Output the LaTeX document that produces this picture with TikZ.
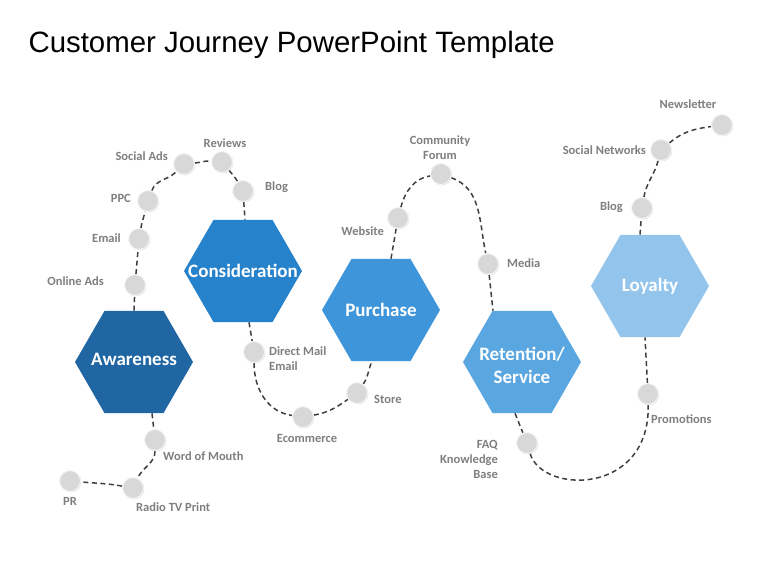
\documentclass[tikz,border=0pt]{standalone}
\usepackage{fontspec}
\setmainfont{Carlito}
\newfontfamily\titlefont{Liberation Sans}
\usetikzlibrary{shapes.geometric,shadows,backgrounds}

\definecolor{awareBlue}{HTML}{1F66A3}
\definecolor{considBlue}{HTML}{2682CB}
\definecolor{purchBlue}{HTML}{3E95D9}
\definecolor{retainBlue}{HTML}{5AA6E0}
\definecolor{loyalBlue}{HTML}{93C4EC}
\definecolor{dotGray}{HTML}{D8D8D8}
\definecolor{lblGray}{HTML}{7F7F7F}
\definecolor{trailGray}{HTML}{3F3F3F}

\tikzset{
  hex/.style={regular polygon, regular polygon sides=6, minimum size=118pt,
    inner sep=0pt, fill=#1},
  hexlabel/.style={text=white, font=\bfseries\fontsize{19}{23}\selectfont, align=center},
  dot/.style={circle, minimum size=21pt, inner sep=0pt, fill=dotGray, draw=gray!8,
    line width=1pt, drop shadow={shadow xshift=0.8pt, shadow yshift=-0.8pt, opacity=0.25}},
  lbl/.style={text=lblGray, font=\bfseries\fontsize{12.5}{15}\selectfont, inner sep=0pt},
  trail/.style={trailGray, line width=1.5pt, dash pattern=on 5pt off 3.5pt}
}

\begin{document}
\begin{tikzpicture}[x=1pt,y=1pt]
\useasboundingbox (0,0) rectangle (768,576);

% title
\node[anchor=base west, font=\titlefont\fontsize{29.4}{34}\selectfont] (title) at (25,523)
  {Customer Journey PowerPoint Template};

% stages
\node[hex=awareBlue, label={[hexlabel,yshift=3pt]center:Awareness}] (awareness) at (134,214) {};
\node[hex=considBlue, label={[hexlabel]center:Consideration}] (consideration) at (243,305) {};
\node[hex=purchBlue, label={[hexlabel]center:Purchase}] (purchase) at (381,266) {};
\node[hex=retainBlue, label={[hexlabel,yshift=-3.5pt]center:{Retention/\\Service}}] (retention) at (522,214) {};
\node[hex=loyalBlue, label={[hexlabel]center:Loyalty}] (loyalty) at (650,290) {};

% touch points
\node[dot] (onlineAds) at (135,291) {};
\node[dot] (email) at (139,337) {};
\node[dot] (ppc) at (148,375) {};
\node[dot] (socialAds) at (184,412) {};
\node[dot] (reviews) at (222,414) {};
\node[dot] (blogA) at (243,385) {};
\node[dot] (wordMouth) at (155,136) {};
\node[dot] (radioTV) at (133,88) {};
\node[dot] (pr) at (70,95) {};
\node[dot] (directMail) at (254,224) {};
\node[dot] (ecommerce) at (303,159) {};
\node[dot] (store) at (357,183) {};
\node[dot] (website) at (398,358) {};
\node[dot] (forum) at (441,402) {};
\node[dot] (media) at (488,312) {};
\node[dot] (faq) at (527,133) {};
\node[dot] (promotions) at (648,182) {};
\node[dot] (blogB) at (642,368) {};
\node[dot] (socialNet) at (661,426) {};
\node[dot] (newsletter) at (722,451) {};

% labels
\node[lbl, anchor=east] (tOnline) at (104,295) {Online Ads};
\node[lbl, anchor=east] (tEmail) at (121,338) {Email};
\node[lbl, anchor=east] (tPPC) at (131,378) {PPC};
\node[lbl, anchor=east] (tSocialAds) at (168,420) {Social Ads};
\node[lbl] (tReviews) at (225,433) {Reviews};
\node[lbl, anchor=west] (tBlogA) at (265,389) {Blog};
\node[lbl, anchor=west] (tWord) at (163,120) {Word of Mouth};
\node[lbl, anchor=west] (tRadio) at (136,69) {Radio TV Print};
\node[lbl] (tPR) at (70,75) {PR};
\node[lbl, anchor=west, align=left] (tDirect) at (269,217) {Direct Mail\\Email};
\node[lbl] (tEcom) at (307,138) {Ecommerce};
\node[lbl, anchor=west] (tStore) at (374,177) {Store};
\node[lbl, anchor=east] (tWebsite) at (384,345) {Website};
\node[lbl, align=center] (tForum) at (440,428) {Community\\Forum};
\node[lbl, anchor=west] (tMedia) at (507,313) {Media};
\node[lbl, anchor=east, align=right] (tFAQ) at (498,117) {FAQ\\Knowledge\\Base};
\node[lbl, anchor=west] (tPromo) at (651,157) {Promotions};
\node[lbl, anchor=east] (tBlogB) at (623,369) {Blog};
\node[lbl, anchor=east] (tSocialNet) at (646,426) {Social Networks};
\node[lbl] (tNews) at (688,472) {Newsletter};

% dashed journey
\begin{scope}[on background layer]
\fill[white] (0,0) rectangle (768,576);
\draw[trail] (awareness.north) -- (onlineAds) -- (email)
  to[out=80,in=-105] (ppc) to[out=70,in=-135] (socialAds)
  to[out=5,in=175] (reviews) to[out=-50,in=120] (blogA)
  -- ([xshift=2pt]consideration.north);
\draw[trail] ([xshift=18pt]awareness.south) -- (wordMouth)
  to[out=-90,in=65] (radioTV) to[out=170,in=-5] (pr);
\draw[trail] ([xshift=6pt]consideration.south) -- (directMail)
  to[out=-90,in=172] (ecommerce) to[out=10,in=-145] (store)
  to[out=55,in=-115] ([xshift=-9pt]purchase.south);
\draw[trail] ([xshift=10pt]purchase.north) -- (website)
  to[out=75,in=-170] (forum) to[out=-20,in=102] (media)
  -- ([xshift=-29pt]retention.north);
\draw[trail] ([xshift=-7pt]retention.south) -- (faq)
  .. controls (542,82) and (650,80) .. (promotions)
  -- ([xshift=-5pt]loyalty.south);
\draw[trail] ([xshift=-10pt]loyalty.north) -- (blogB)
  to[out=80,in=-105] (socialNet) to[out=40,in=188] (newsletter);
\end{scope}
\end{tikzpicture}
\end{document}
